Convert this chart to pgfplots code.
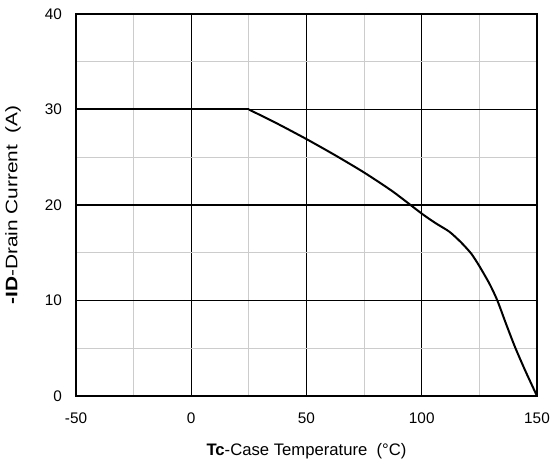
\documentclass[border=0pt]{standalone}
\usepackage{fontspec}
\setmainfont{Liberation Sans}
\usepackage{graphicx}
\usepackage{pgfplots}
\pgfplotsset{compat=1.18}
\begin{document}
\begin{tikzpicture}
\begin{axis}[
  at={(0,0)}, anchor=south west,
  scale only axis, width=345.75pt, height=286.5pt,
  xmin=-50, xmax=150, ymin=0, ymax=40,
  xtick={-50,0,50,100,150}, ytick={0,10,20,30,40},
  minor xtick={-25,25,75,125}, minor ytick={5,15,25,35},
  grid=both,
  major grid style={black, line width=0.9pt},
  minor grid style={gray!40, line width=0.8pt},
  major tick length=0pt, minor tick length=0pt,
  axis line style={line width=1.8pt},
  tick label style={font=\fontsize{11.5}{13}\selectfont},
  /pgf/number format/assume math mode=true,
  yticklabel style={xshift=-7pt},
  xticklabel style={yshift=-9pt},
  label style={font=\fontsize{12.5}{15}\selectfont},
  xlabel={\textbf{Tc}-Case Temperature\ \ (°C)},
  ylabel={\scalebox{1.25}[1]{\textbf{-ID}-Drain Current\ \ (A)}},
  xlabel style={at={(axis description cs:0.5,-0.1545)}, anchor=base},
  ylabel style={at={(axis description cs:-0.1367,0.5)}, anchor=center},
]
\addplot[black, line width=1.5pt] coordinates {(-50,30) (25,30)};
\addplot[black, line width=1.5pt, smooth, tension=0.4] coordinates {
  (25,30) (37.5,28.5) (50,26.9) (62.5,25.2) (75,23.4) (87.5,21.4)
  (100,19.1) (106,18.1) (112,17.2) (117,16.1) (121.5,14.9) (125,13.6)
  (129.5,11.7) (132.8,10) (136.5,7.6) (140.5,5.1) (145,2.6) (150,0)
};
\end{axis}
\pgfresetboundingbox
\path[use as bounding box] (-57pt,-47.25pt) rectangle (355.5pt,297pt);
\end{tikzpicture}
\end{document}
